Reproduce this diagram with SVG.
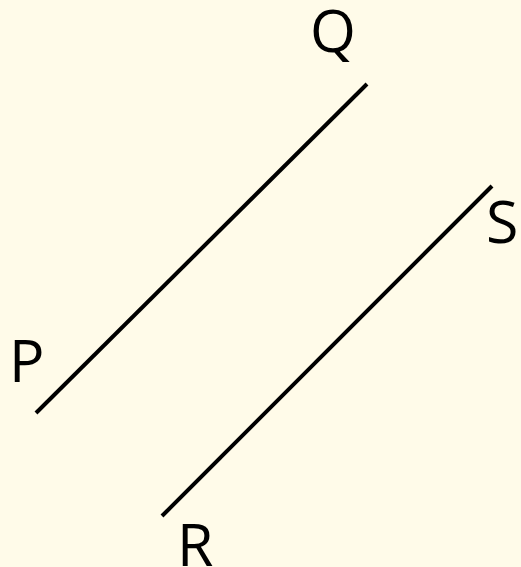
<svg xmlns="http://www.w3.org/2000/svg" width="521" height="567" viewBox="0 0 521 567">
<style>
.ln{stroke:#000;stroke-width:4;fill:none}
.lb{font-family:"Open Sans",sans-serif;font-size:59px;fill:#000}
</style>
<rect width="521" height="567" fill="#fffbe9"/>
<g id="connectors">
<line class="ln" x1="36" y1="413" x2="367" y2="84"/>
<line class="ln" x1="162" y1="516" x2="492" y2="186"/>
</g>
<g id="P"><text class="lb" x="9" y="382">P</text></g>
<g id="Q"><text class="lb" x="310" y="52">Q</text></g>
<g id="R"><text class="lb" x="177" y="566">R</text></g>
<g id="S"><text class="lb" x="486" y="243">S</text></g>
</svg>
